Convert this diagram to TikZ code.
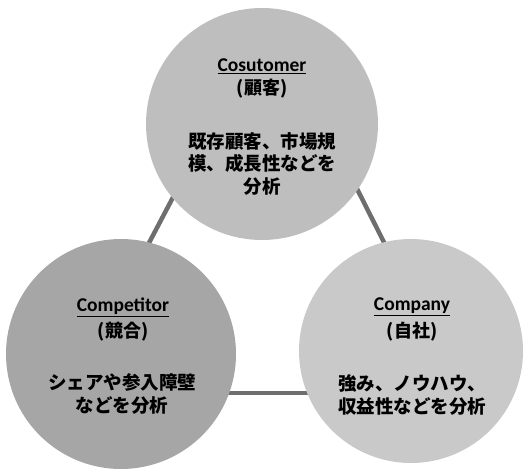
\documentclass[tikz,border=0pt]{standalone}
\usepackage{fontspec}
\setmainfont{Carlito}
\newfontfamily\jp{Noto Sans CJK JP}
\definecolor{topc}{HTML}{BEBEBE}
\definecolor{leftc}{HTML}{A6A6A6}
\definecolor{rightc}{HTML}{C9C9C9}
\definecolor{linec}{HTML}{6E6E6E}
\tikzset{
  circ/.style={circle, inner sep=0pt},
  conn/.style={draw=linec, line width=4.5pt},
  head/.style={font=\fontsize{19.5}{21}\selectfont\bfseries, inner sep=0pt},
  headjp/.style={font=\fontsize{18}{20}\selectfont\jp\bfseries, inner sep=0pt},
  body/.style={font=\fontsize{18.5}{22.5}\selectfont\jp\bfseries, align=center, inner sep=0pt},
}
\begin{document}
\begin{tikzpicture}[x=1pt,y=-1pt]
\useasboundingbox (0,0) rectangle (532,468);
% connector end points (hidden behind circles)
\coordinate (t) at (267,60);
\coordinate (l) at (70,393);
\coordinate (r) at (460,393);
\coordinate (tl) at (190,165);
\coordinate (tr) at (345,165);
\draw[conn] (tl) -- (l);
\draw[conn] (tr) -- (r);
\draw[conn] (l) -- (r);
% circles
\node[circ, fill=topc, minimum size=232pt] (cust) at (262,124) {};
\node[circ, fill=leftc, minimum size=230pt] (comp) at (121,354) {};
\node[circ, fill=rightc, minimum size=224pt] (compa) at (411,351) {};
% texts
\node[head] (ct) at (262,66) {\underline{Cosutomer}};
\node[headjp] (cj) at (262,89) {(顧客)};
\node[body] (cb) at (262,164) {既存顧客、市場規\\模、成長性などを\\分析};
\node[head] (pt) at (123,307) {\underline{Competitor}};
\node[headjp] (pj) at (123,332) {(競合)};
\node[body] (pb) at (122,394) {シェアや参入障壁\\などを分析};
\node[head] (at) at (412,307) {\underline{Company}};
\node[headjp] (aj) at (412,332) {(自社)};
\node[body] (ab) at (412,395) {強み、ノウハウ、\\収益性などを分析};
\end{tikzpicture}
\end{document}
